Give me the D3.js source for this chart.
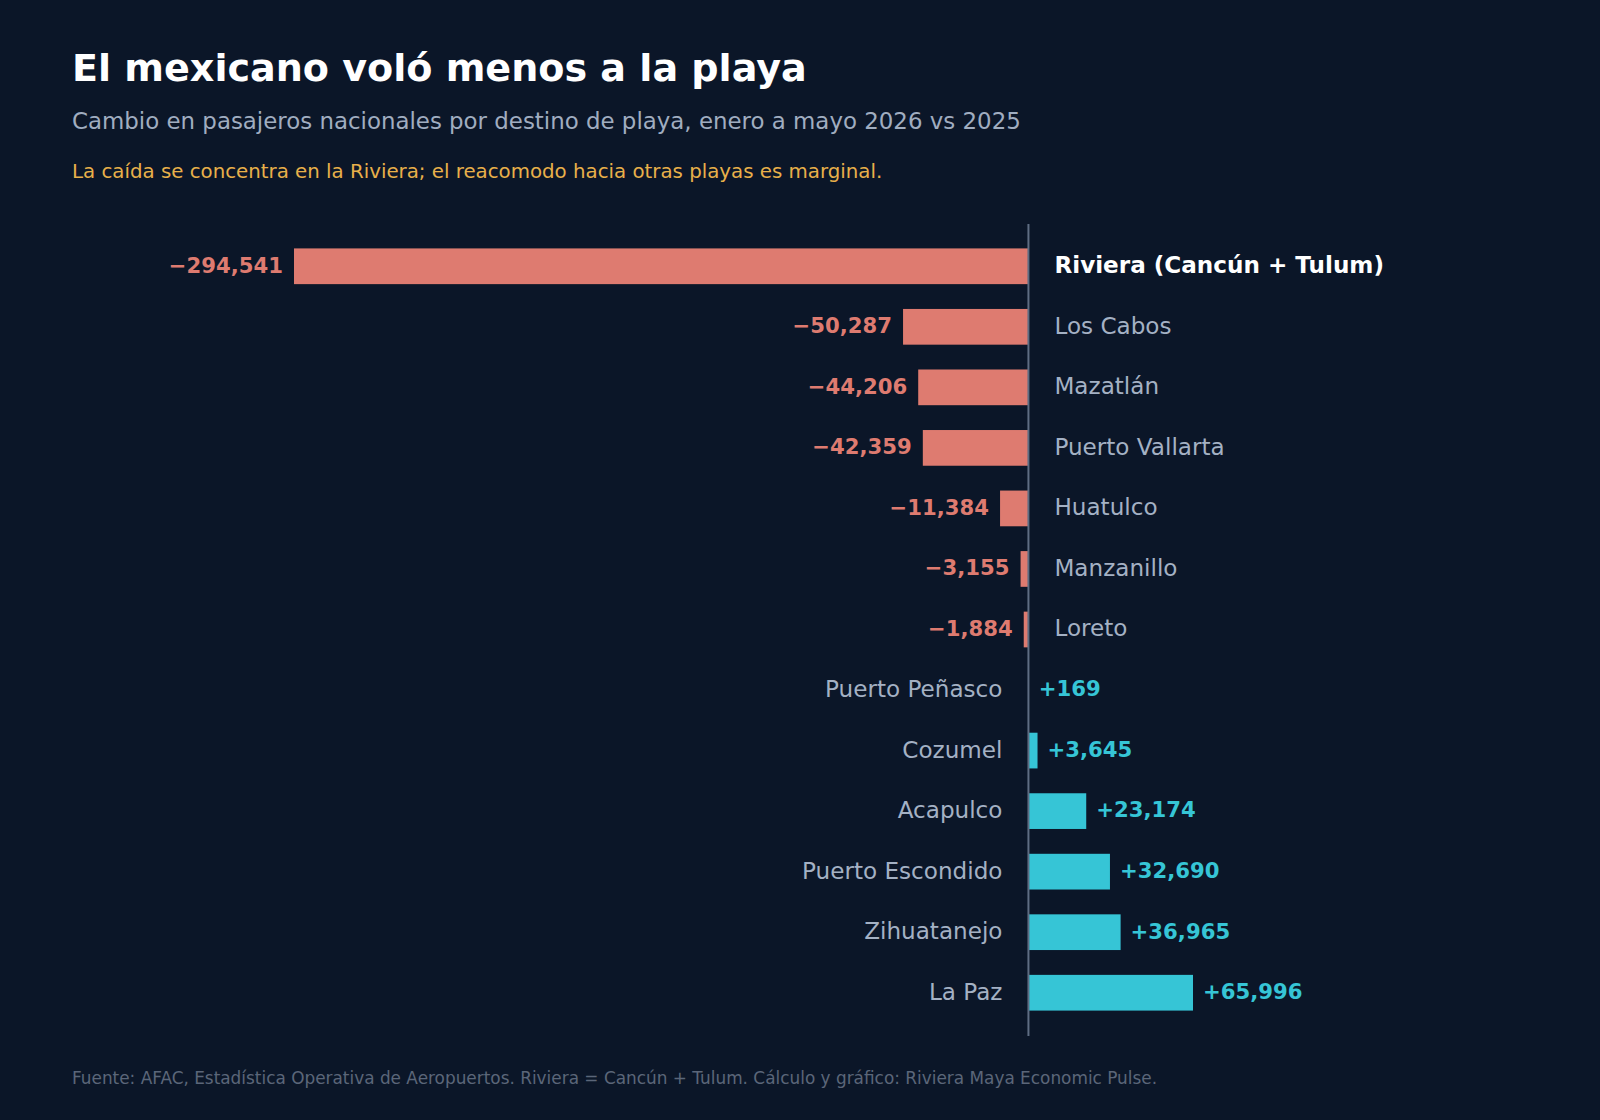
<!DOCTYPE html>
<html>
<head>
<meta charset="utf-8">
<script src="https://cdn.jsdelivr.net/npm/d3@7"></script>
<style>
  html, body { margin: 0; padding: 0; background: #0b1628; }
  svg { display: block; font-family: "DejaVu Sans", sans-serif; }
</style>
</head>
<body>
<svg width="1600" height="1120"></svg>
<script>
// destinos, de mayor caída a mayor ganancia
const destinos = ["Riviera (Cancún + Tulum)", "Los Cabos", "Mazatlán", "Puerto Vallarta", "Huatulco",
    "Manzanillo", "Loreto", "Puerto Peñasco", "Cozumel", "Acapulco", "Puerto Escondido",
    "Zihuatanejo", "La Paz"];
const cambios = [-294541, -50287, -44206, -42359, -11384, -3155, -1884, 169, 3645, 23174, 32690, 36965, 65996];
const destacado = "Riviera (Cancún + Tulum)";

const data = destinos.map((d, i) => ({name: d, value: cambios[i]}));

const svg = d3.select("svg");
const width = +svg.attr("width");
const height = +svg.attr("height");

const bg = "#0b1628";
const neg = "#de7b70";
const pos = "#36c5d6";
const muted = "#a4b1c4";

svg.append("rect").attr("width", width).attr("height", height).attr("fill", bg);

const x = d3.scaleLinear()
    .domain([d3.min(cambios), d3.max(cambios)])
    .range([294, 1193]);

const y = d3.scaleBand()
    .domain(destinos)
    .range([236, 1023])
    .paddingInner(0.41)
    .paddingOuter(0.205);

const fmt = d3.format(",");
const signed = v => (v < 0 ? "\u2212" : "+") + fmt(Math.abs(v));

// titulos
svg.append("text")
    .attr("x", 72).attr("y", 81)
    .attr("fill", "#ffffff")
    .attr("font-size", 38.1).attr("font-weight", "bold")
    .text("El mexicano voló menos a la playa");

svg.append("text")
    .attr("x", 72).attr("y", 129)
    .attr("fill", "#a0adc0")
    .attr("font-size", 22.9)
    .text("Cambio en pasajeros nacionales por destino de playa, enero a mayo 2026 vs 2025");

svg.append("text")
    .attr("x", 72).attr("y", 178)
    .attr("fill", "#e8b04a")
    .attr("font-size", 19.8)
    .text("La caída se concentra en la Riviera; el reacomodo hacia otras playas es marginal.");

// barras
svg.append("g")
    .selectAll("rect")
    .data(data)
    .enter()
    .append("rect")
    .attr("x", d => x(Math.min(0, d.value)))
    .attr("y", d => y(d.name))
    .attr("width", d => Math.abs(x(d.value) - x(0)))
    .attr("height", y.bandwidth())
    .attr("fill", d => d.value < 0 ? neg : pos);

// eje cero
svg.append("line")
    .attr("x1", x(0)).attr("x2", x(0))
    .attr("y1", 224).attr("y2", 1036)
    .attr("stroke", "#5f6d83")
    .attr("stroke-width", 2);

// valores
svg.append("g")
    .selectAll("text")
    .data(data)
    .enter().append("text")
    .attr("x", d => d.value < 0 ? x(d.value) - 11 : x(d.value) + 10)
    .attr("y", d => y(d.name) + y.bandwidth() / 2)
    .attr("dy", "0.3em")
    .attr("text-anchor", d => d.value < 0 ? "end" : "start")
    .attr("fill", d => d.value < 0 ? neg : pos)
    .attr("font-size", 21.2).attr("font-weight", "bold")
    .text(d => signed(d.value));

// nombres de destino, al lado opuesto del eje
svg.append("g")
    .selectAll("text")
    .data(data)
    .enter().append("text")
    .attr("x", d => d.value < 0 ? x(0) + 26 : x(0) - 26)
    .attr("y", d => y(d.name) + y.bandwidth() / 2)
    .attr("dy", "0.3em")
    .attr("text-anchor", d => d.value < 0 ? "start" : "end")
    .attr("fill", d => d.name === destacado ? "#ffffff" : muted)
    .attr("font-size", 23.1)
    .attr("font-weight", d => d.name === destacado ? "bold" : "normal")
    .text(d => d.name);

svg.append("text")
    .attr("x", 72).attr("y", 1084)
    .attr("fill", "#5b6679")
    .attr("font-size", 16.9)
    .text("Fuente: AFAC, Estadística Operativa de Aeropuertos. Riviera = Cancún + Tulum. Cálculo y gráfico: Riviera Maya Economic Pulse.");
</script>
</body>
</html>
